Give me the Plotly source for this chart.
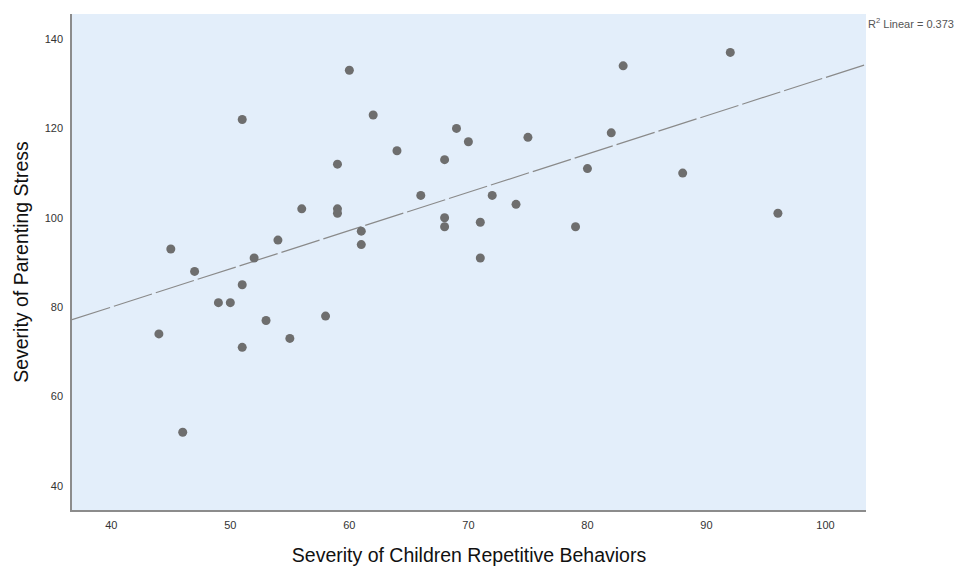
import numpy as np
import plotly.graph_objects as go

# Data
repetitive = [44, 45, 46, 47, 49, 50, 51, 51, 51, 52, 53, 54, 55, 56, 58, 59, 59, 59,
              60, 61, 61, 62, 64, 66, 68, 68, 68, 69, 70, 71, 71, 72, 74, 75, 79, 80,
              82, 83, 88, 92, 96]
stress = [74, 93, 52, 88, 81, 81, 122, 85, 71, 91, 77, 95, 73, 102, 78, 112, 102, 101,
          133, 97, 94, 123, 115, 105, 113, 100, 98, 120, 117, 99, 91, 105, 103, 118, 98, 111,
          119, 134, 110, 137, 101]

x_ticks = [40, 50, 60, 70, 80, 90, 100]
y_ticks = [40, 60, 80, 100, 120, 140]
x_range = [36.7, 103.4]
y_range = [34.6, 145.6]
r2_label = "R<sup>2</sup> Linear = 0.373"

slope, intercept = np.polyfit(repetitive, stress, 1)
line_x = np.array(x_range)
line_y = intercept + slope * line_x

fig = go.Figure()
fig.add_trace(go.Scatter(
    x=line_x, y=line_y, mode="lines",
    line=dict(color="#8a8a8a", width=1.2, dash="40px,4px"),
    hoverinfo="skip", showlegend=False,
))
fig.add_trace(go.Scatter(
    x=repetitive, y=stress, mode="markers",
    marker=dict(color="#6e6e6e", size=9, line=dict(width=0)),
    showlegend=False,
))

font_family = "Liberation Sans, Arial, sans-serif"
fig.update_layout(
    width=958, height=558,
    margin=dict(l=64, r=100, t=6, b=56),
    paper_bgcolor="white",
    plot_bgcolor="#E3EEFA",
    font=dict(family=font_family, color="#222"),
    xaxis=dict(
        range=x_range, tickvals=x_ticks, ticktext=[str(v) for v in x_ticks],
        showgrid=False, zeroline=False, showline=True, linecolor="#8c8c8c", linewidth=1.5,
        ticks="", tickfont=dict(size=11, color="#333"), ticklabelstandoff=4,
        automargin=False,
        title=dict(text="Severity of Children Repetitive Behaviors",
                   font=dict(size=19.5, color="#111"), standoff=18),
    ),
    yaxis=dict(
        range=y_range, tickvals=y_ticks, ticktext=[str(v) for v in y_ticks],
        showgrid=False, zeroline=False, showline=True, linecolor="#8c8c8c", linewidth=1.5,
        ticks="", tickfont=dict(size=11, color="#333"), ticklabelstandoff=5,
        automargin=False,
        title=dict(text="Severity of Parenting Stress",
                   font=dict(size=19.5, color="#111"), standoff=11),
    ),
    annotations=[dict(
        text=r2_label, xref="paper", yref="paper", x=1.0, y=1.0,
        xanchor="left", yanchor="top", showarrow=False,
        font=dict(size=11, color="#555", family=font_family), xshift=0, yshift=0,
    )],
)

fig.write_html("out.html")
